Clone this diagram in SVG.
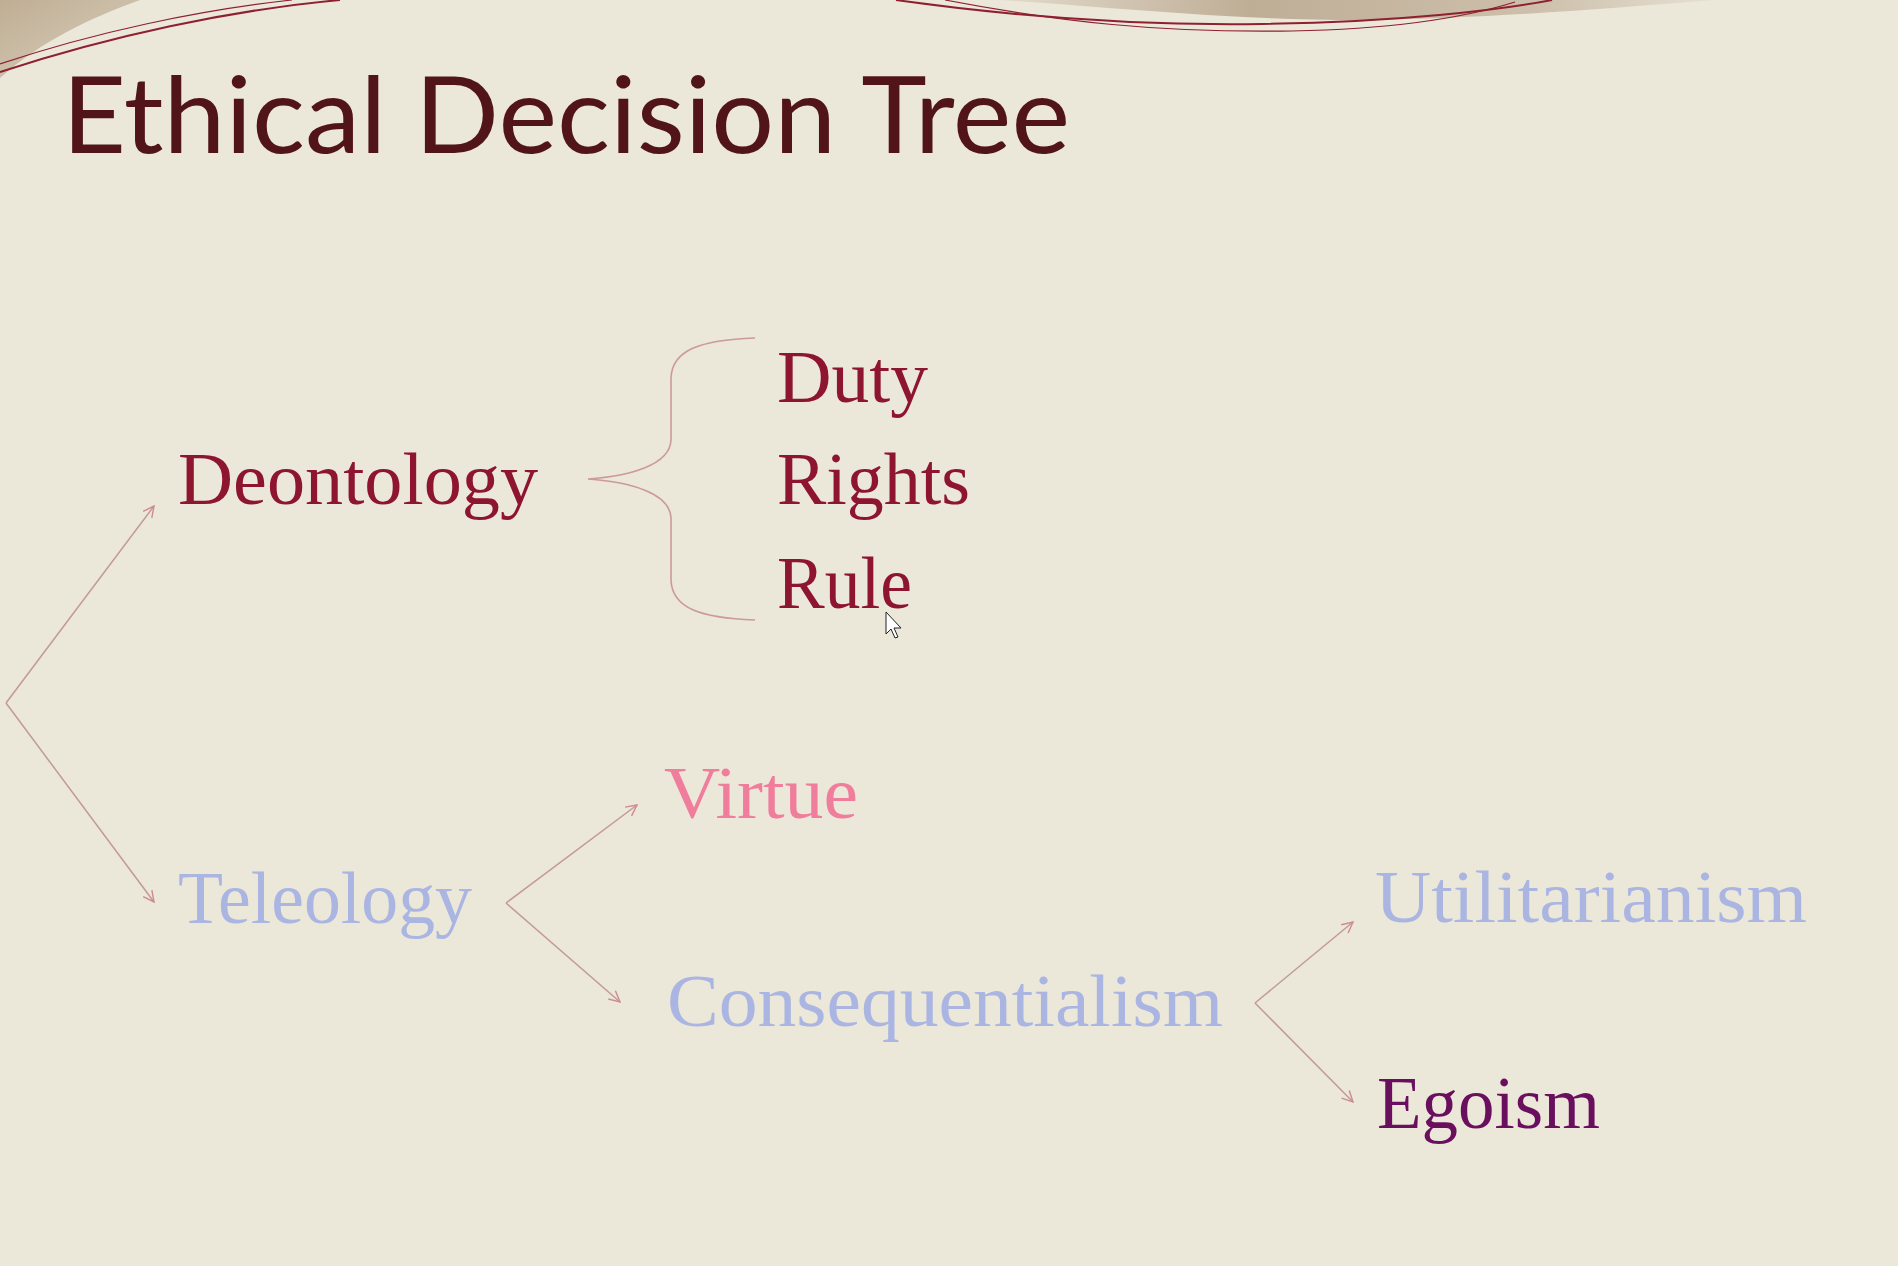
<svg xmlns="http://www.w3.org/2000/svg" width="1898" height="1266" viewBox="0 0 1898 1266">
  <defs>
    <linearGradient id="tanLeft" x1="0" y1="0" x2="1" y2="1">
      <stop offset="0" stop-color="#bfae94"/>
      <stop offset="1" stop-color="#d9cfbd"/>
    </linearGradient>
    <linearGradient id="tanTop" x1="0" y1="0" x2="1" y2="0">
      <stop offset="0" stop-color="#e2dacb"/>
      <stop offset="0.35" stop-color="#bfae96"/>
      <stop offset="0.75" stop-color="#cdbfab"/>
      <stop offset="1" stop-color="#e6e0d2"/>
    </linearGradient>
    <marker id="head" viewBox="0 0 12 12" refX="11" refY="6" markerWidth="13" markerHeight="13" markerUnits="userSpaceOnUse" orient="auto">
      <path d="M1,1 L11,6 L1,11" fill="none" stroke="#d08a90" stroke-width="1.3"/>
    </marker>
    <style>
      .title { font-family: Lato, "Open Sans", "Liberation Sans", sans-serif; font-size: 106px; fill: #511419; }
      .term { font-family: "Liberation Serif", "DejaVu Serif", serif; font-size: 74px; }
      .red { fill: #8e1530; }
      .blue { fill: #aab5e2; }
      .pink { fill: #f07d9c; }
      .purple { fill: #6a0f5e; }
      .link { fill: none; stroke: #c29a94; stroke-width: 1.5; marker-end: url(#head); }
      .brace { fill: none; stroke: #cc9a98; stroke-width: 1.6; }
      .swoosh { fill: none; stroke: #8e2030; }
    </style>
  </defs>

  <!-- page background -->
  <rect width="1898" height="1266" fill="#ebe7d9"/>

  <!-- decorative swooshes along the top edge -->
  <g id="decoration">
    <path d="M0,0 L140,0 C90,18 40,42 0,78 Z" fill="url(#tanLeft)"/>
    <path d="M1000,0 C1120,8 1230,20 1360,20 C1500,18 1610,8 1715,0 Z" fill="url(#tanTop)"/>
    <path class="swoosh" d="M0,72 C110,36 230,10 340,0" stroke-width="2"/>
    <path class="swoosh" d="M0,64 C95,32 200,10 292,0" stroke-width="1.2" stroke="#c0505e"/>
    <path class="swoosh" d="M896,0 C1010,16 1130,26 1262,24 C1400,22 1500,10 1552,0" stroke-width="2"/>
    <path class="swoosh" d="M945,0 C1060,22 1160,33 1292,31 C1400,29 1470,16 1515,2" stroke-width="1.2" stroke="#c8707c"/>
  </g>

  <text class="title" x="62" y="153" textLength="1008" lengthAdjust="spacingAndGlyphs">Ethical Decision Tree</text>

  <!-- connectors -->
  <g id="connectors">
    <path class="link" d="M6,703 L154,506"/>
    <path class="link" d="M6,703 L154,902"/>
    <path class="link" d="M506,903 L637,805"/>
    <path class="link" d="M506,903 L620,1002"/>
    <path class="link" d="M1255,1003 L1353,922"/>
    <path class="link" d="M1255,1003 L1353,1102"/>
    <path class="brace" d="M755,338 C700,340 672,350 671,378 L671,440 C670,465 630,476 588,479 C630,482 670,493 671,518 L671,580 C672,608 700,618 755,620"/>
  </g>

  <g id="deontology"><text class="term red" x="178" y="504" textLength="360" lengthAdjust="spacingAndGlyphs">Deontology</text></g>
  <g id="duty"><text class="term red" x="777" y="402" textLength="151" lengthAdjust="spacingAndGlyphs">Duty</text></g>
  <g id="rights"><text class="term red" x="777" y="504" textLength="193" lengthAdjust="spacingAndGlyphs">Rights</text></g>
  <g id="rule"><text class="term red" x="777" y="608" textLength="135" lengthAdjust="spacingAndGlyphs">Rule</text></g>
  <g id="teleology"><text class="term blue" x="178" y="923" textLength="294" lengthAdjust="spacingAndGlyphs">Teleology</text></g>
  <g id="virtue"><text class="term pink" x="664" y="818" textLength="194" lengthAdjust="spacingAndGlyphs">Virtue</text></g>
  <g id="consequentialism"><text class="term blue" x="667" y="1026" textLength="556" lengthAdjust="spacingAndGlyphs">Consequentialism</text></g>
  <g id="utilitarianism"><text class="term blue" x="1375" y="922" textLength="432" lengthAdjust="spacingAndGlyphs">Utilitarianism</text></g>
  <g id="egoism"><text class="term purple" x="1377" y="1128" textLength="223" lengthAdjust="spacingAndGlyphs">Egoism</text></g>

  <!-- mouse pointer -->
  <path d="M886,612 L886,634 L891,629 L895,638 L898,637 L894,628 L901,628 Z" fill="#ffffff" stroke="#222" stroke-width="1"/>
</svg>
